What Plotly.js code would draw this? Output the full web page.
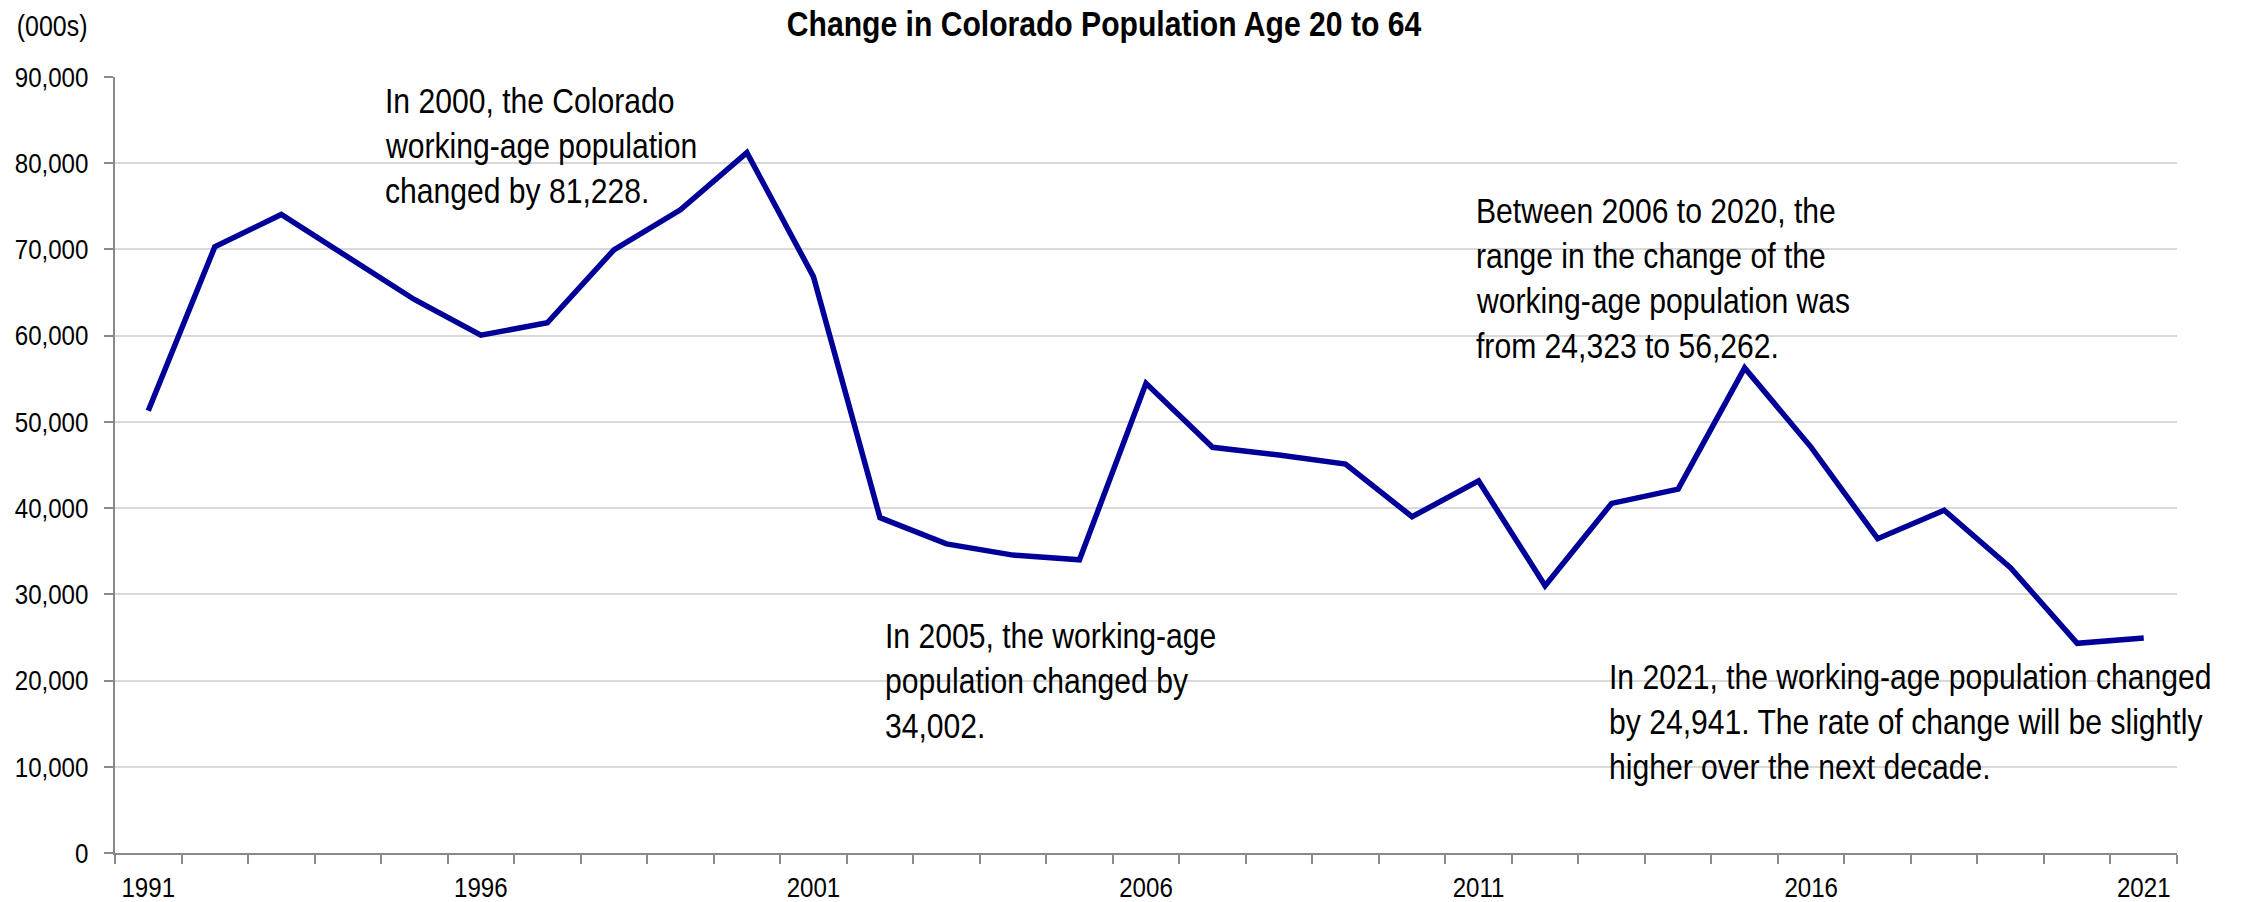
<!DOCTYPE html>
<html>
<head>
<meta charset="utf-8">
<script src="https://cdn.plot.ly/plotly-3.0.1.min.js"></script>
<style>
  html, body { margin: 0; padding: 0; background: #ffffff; }
  #chart { width: 2246px; height: 902px; }
</style>
</head>
<body>
<div id="chart"></div>
<script>
// Annual change in the Colorado population aged 20 to 64
const years = [1991, 1992, 1993, 1994, 1995, 1996, 1997, 1998, 1999, 2000,
               2001, 2002, 2003, 2004, 2005, 2006, 2007, 2008, 2009, 2010,
               2011, 2012, 2013, 2014, 2015, 2016, 2017, 2018, 2019, 2020, 2021];
const popChange = [51300, 70300, 74050, 69100, 64200, 60050, 61500, 69950, 74600, 81228,
                   66850, 38900, 35850, 34550, 34002, 54480, 47050, 46150, 45100, 39000,
                   43150, 31000, 40550, 42200, 56262, 47050, 36450, 39750, 33050, 24323, 24941];
const yearLabels = [1991, 1996, 2001, 2006, 2011, 2016, 2021];

// Text notes, one entry per line: left edge and baseline in page pixels
const noteLines = [
  { x: 383,  y: 113, text: 'In 2000, the Colorado' },
  { x: 383,  y: 158, text: 'working-age population' },
  { x: 383,  y: 203, text: 'changed by 81,228.' },
  { x: 883,  y: 648, text: 'In 2005, the working-age' },
  { x: 883,  y: 693, text: 'population changed by' },
  { x: 883,  y: 738, text: '34,002.' },
  { x: 1474, y: 223, text: 'Between 2006 to 2020, the' },
  { x: 1474, y: 268, text: 'range in the change of the' },
  { x: 1474, y: 313, text: 'working-age population was' },
  { x: 1474, y: 358, text: 'from 24,323 to 56,262.' },
  { x: 1607, y: 689, text: 'In 2021, the working-age population changed' },
  { x: 1607, y: 734, text: 'by 24,941. The rate of change will be slightly' },
  { x: 1607, y: 779, text: 'higher over the next decade.' }
];

const FONT = '"Liberation Sans", Arial, sans-serif';
const CONDENSE = 0.86;          // horizontal squeeze giving a narrow face
const W = 2246, H = 902;
const M = { l: 115, r: 69, t: 77, b: 49 };
const plotW = W - M.l - M.r, plotH = H - M.t - M.b;
// page pixels -> paper coordinates
const px = x => (x - M.l) / plotW;
const py = y => (H - M.b - y) / plotH;

const NOTE_SIZE = 35;
const TICK_SIZE = 28;

// width of a note line once squeezed, so its box matches the drawn text
const measureCtx = document.createElement('canvas').getContext('2d');
measureCtx.font = NOTE_SIZE + 'px "Liberation Sans", Arial, sans-serif';
const squeezedWidth = s => Math.ceil(measureCtx.measureText(s).width * CONDENSE) + 6;

const annotations = noteLines.map(n => ({
  xref: 'paper', yref: 'paper',
  x: px(n.x), y: py(n.y - 0.347 * NOTE_SIZE),
  xanchor: 'left', yanchor: 'middle', align: 'left',
  width: squeezedWidth(n.text),
  showarrow: false, text: n.text,
  font: { family: FONT, size: NOTE_SIZE, color: '#000000' }
}));
annotations.push({
  xref: 'paper', yref: 'paper',
  x: px(9), y: py(26), xanchor: 'left', yanchor: 'middle',
  showarrow: false, text: '(000s)',
  font: { family: FONT, size: 29, color: '#000000' }
});

const trace = {
  type: 'scatter', mode: 'lines',
  x: years, y: popChange,
  line: { color: '#000099', width: 5.5 },
  hoverinfo: 'x+y'
};

const layout = {
  width: W, height: H,
  margin: M,
  paper_bgcolor: '#ffffff', plot_bgcolor: '#ffffff',
  showlegend: false,
  font: { family: FONT, size: TICK_SIZE, color: '#000000' },
  title: {
    text: '<b>Change in Colorado Population Age 20 to 64</b>',
    x: 1104 / W, xanchor: 'center', xref: 'container',
    y: 1 - 24 / H, yanchor: 'middle', yref: 'container',
    font: { family: FONT, size: 35, color: '#000000' }
  },
  xaxis: {
    range: [1990.5, 2021.5],
    tickmode: 'array', tickvals: yearLabels, ticktext: yearLabels.map(String),
    ticks: '', showgrid: false, zeroline: false,
    showline: true, linecolor: '#898989', linewidth: 2,
    ticklabelstandoff: 8,
    tickfont: { family: FONT, size: TICK_SIZE, color: '#000000' },
    minor: { tick0: 1990.5, dtick: 1, ticks: 'outside', ticklen: 9, tickwidth: 2, tickcolor: '#898989', showgrid: false }
  },
  yaxis: {
    range: [0, 90000], dtick: 10000, tick0: 0, tickformat: ',d',
    ticks: 'outside', ticklen: 9, tickwidth: 2, tickcolor: '#898989',
    showline: true, linecolor: '#898989', linewidth: 2,
    showgrid: true, gridcolor: '#d9d9d9', gridwidth: 2,
    zeroline: false,
    ticklabelstandoff: 10,
    tickfont: { family: FONT, size: TICK_SIZE, color: '#000000' }
  },
  annotations: annotations
};

// squeeze every text run horizontally about its own anchor
function condenseText(gd, k) {
  gd.querySelectorAll('svg text').forEach(t => {
    const runs = t.querySelectorAll('tspan.line');
    const targets = runs.length ? Array.from(runs) : [t];
    targets.forEach(el => {
      const len = el.getComputedTextLength();
      if (len > 0) {
        el.setAttribute('textLength', (len * k).toFixed(2));
        el.setAttribute('lengthAdjust', 'spacingAndGlyphs');
      }
    });
  });
}

const gd = document.getElementById('chart');
Plotly.newPlot(gd, [trace], layout, { displayModeBar: false, staticPlot: true })
  .then(() => condenseText(gd, CONDENSE));
</script>
</body>
</html>
